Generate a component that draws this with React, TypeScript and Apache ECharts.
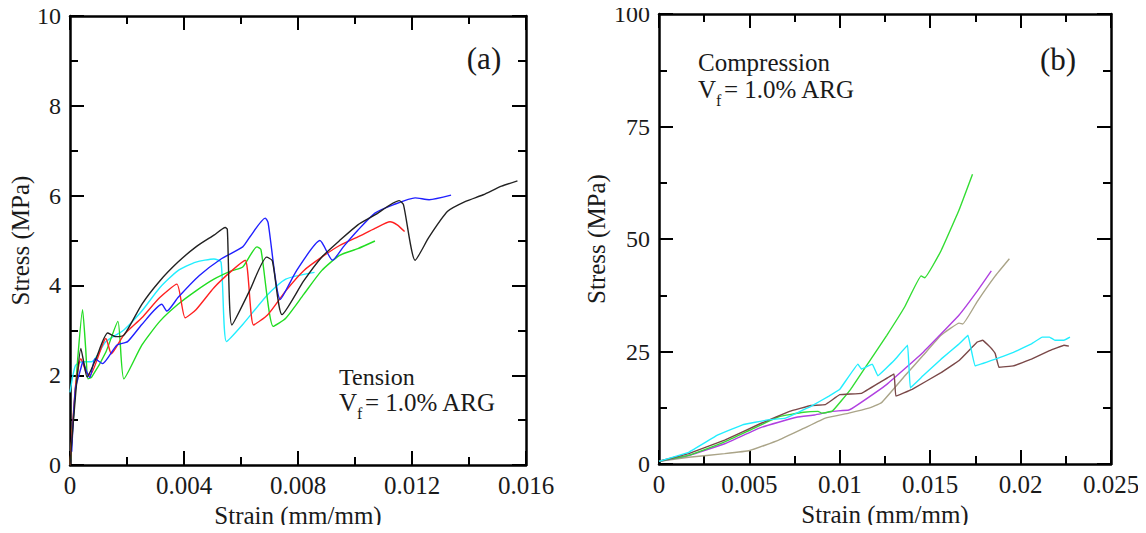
import React, { useEffect, useRef } from "react";
import * as echarts from "echarts";

type P = [number, number];

// ---- Tension (a): [strain, stress MPa]
const tensionBlack: P[] = [[0,0],[0.0002,1.6],[0.00038,2.6],[0.00048,2.3],[0.0006,1.96],[0.0009,2.35],[0.00132,2.94],[0.0016,2.86],[0.0019,2.9],[0.00252,3.58],[0.00315,4.1],[0.00379,4.52],[0.00442,4.86],[0.00505,5.12],[0.00545,5.29],[0.00552,5.25],[0.00568,3.12],[0.0063,3.88],[0.0069,4.63],[0.0071,4.55],[0.00744,3.35],[0.0082,4.1],[0.00883,4.63],[0.00946,5.0],[0.0101,5.35],[0.0107,5.57],[0.01155,5.89],[0.0117,5.8],[0.01211,4.56],[0.0126,5.08],[0.01325,5.65],[0.01388,5.87],[0.0145,6.02],[0.01514,6.21],[0.0157,6.33]];
const tensionBlue: P[] = [[0.00006,0.3],[0.00019,1.7],[0.00038,2.15],[0.00045,2.3],[0.0006,2.05],[0.0007,1.95],[0.00088,2.37],[0.00114,2.26],[0.00164,2.67],[0.00202,2.75],[0.00252,3.13],[0.00322,3.58],[0.0034,3.43],[0.00379,3.73],[0.00454,4.22],[0.0053,4.59],[0.00606,4.86],[0.00631,5.08],[0.00685,5.5],[0.00695,5.4],[0.00738,3.69],[0.00795,4.33],[0.00877,5.0],[0.00921,4.56],[0.00959,4.86],[0.0101,5.23],[0.0107,5.61],[0.01136,5.8],[0.01211,5.95],[0.0126,5.91],[0.01337,6.01]];
const tensionRed: P[] = [[0,0],[0.0002,1.8],[0.00038,2.37],[0.00057,2.07],[0.0007,2.0],[0.00126,2.82],[0.00145,2.48],[0.00189,2.9],[0.00252,3.28],[0.00315,3.73],[0.00375,4.03],[0.00404,3.28],[0.00442,3.46],[0.00505,3.95],[0.00568,4.33],[0.00615,4.56],[0.00644,3.12],[0.00694,3.35],[0.00757,3.88],[0.0082,4.33],[0.00883,4.63],[0.00946,4.89],[0.0101,5.08],[0.0107,5.27],[0.01123,5.42],[0.01148,5.35],[0.01174,5.2]];
const tensionGreen: P[] = [[0,0],[0.00025,2.2],[0.00044,3.46],[0.00055,2.6],[0.00063,1.92],[0.00076,1.96],[0.00126,2.52],[0.00168,3.2],[0.00189,1.92],[0.00252,2.67],[0.00315,3.2],[0.00379,3.58],[0.00442,3.88],[0.00505,4.14],[0.00568,4.33],[0.00606,4.41],[0.00656,4.86],[0.0067,4.8],[0.00713,3.09],[0.00757,3.27],[0.0082,3.8],[0.00883,4.33],[0.00946,4.67],[0.0101,4.82],[0.0107,4.99]];
const tensionCyan: P[] = [[0,1.62],[0.00019,2.22],[0.00044,2.3],[0.00076,2.3],[0.00126,2.75],[0.00189,3.01],[0.00252,3.43],[0.00315,3.95],[0.00379,4.33],[0.00442,4.52],[0.00505,4.59],[0.0053,4.52],[0.00549,2.75],[0.00606,3.13],[0.00694,3.8],[0.00757,4.14],[0.00858,4.29]];

// ---- Compression (b)
const compGreen: P[] = [[0,0.6],[0.00164,1.9],[0.00363,4.9],[0.00502,7.5],[0.00662,10.5],[0.008,11.5],[0.0088,11.7],[0.009,11.3],[0.0096,11.8],[0.0106,16.6],[0.0116,22.6],[0.0126,28.6],[0.0136,35],[0.0145,41.8],[0.0147,41.4],[0.0156,47.4],[0.0166,56.5],[0.01734,64.4]];
const compPurple: P[] = [[0,0.6],[0.00164,1.9],[0.00363,4.5],[0.00562,8.1],[0.00761,10.4],[0.0086,10.9],[0.0096,11.7],[0.0105,12],[0.011,13.2],[0.0126,17.7],[0.0146,24.8],[0.0166,33.1],[0.0176,38.4],[0.01838,42.9]];
const compTan: P[] = [[0,0.6],[0.00164,1.5],[0.00363,2.3],[0.00502,3],[0.00662,5.3],[0.008,7.9],[0.0092,10.2],[0.0105,11.3],[0.0116,12.4],[0.0123,13.6],[0.0136,19.6],[0.0146,24.1],[0.0156,28.6],[0.0166,31.3],[0.0168,31.1],[0.0176,36.1],[0.0186,41.8],[0.01938,45.6]];
const compBrown: P[] = [[0,0.6],[0.00164,2.3],[0.00363,5.3],[0.00562,9],[0.00722,11.7],[0.0084,13],[0.0092,13.2],[0.01,15.4],[0.0112,15.7],[0.0122,18.1],[0.013,20],[0.0131,15.1],[0.014,16.6],[0.0156,20.3],[0.0166,23],[0.0176,27.1],[0.0179,27.5],[0.0184,25.6],[0.0186,24.5],[0.0188,21.5],[0.0196,21.8],[0.0206,23.3],[0.0216,25.2],[0.0224,26.4],[0.02267,26.2]];
const compCyan: P[] = [[0,0.6],[0.00164,2.6],[0.00323,6.4],[0.00462,8.7],[0.00602,9.8],[0.007,10.2],[0.0084,12.8],[0.0094,15.1],[0.01,16.6],[0.011,22.2],[0.0112,21.1],[0.0118,22.2],[0.0121,19.6],[0.013,23],[0.01375,26.4],[0.0139,16.9],[0.0146,19.6],[0.0156,23.3],[0.0166,26.7],[0.01709,28.6],[0.01748,21.8],[0.0186,23.3],[0.0196,24.8],[0.0206,26.7],[0.0212,28.2],[0.0216,28.2],[0.0219,27.5],[0.0224,27.5],[0.02273,28.2]];

const FONT = "Liberation Serif";
const INK = "#1a1a1a";

const fmt = (v: number) => (v === 0 ? "0" : String(+v.toFixed(4)));

function xAxis(gridIndex: number, max: number, interval: number, pos: "bottom" | "top", name?: string) {
  const main = pos === "bottom";
  return {
    type: "value", gridIndex, position: pos, min: 0, max, interval,
    name: main ? name : undefined, nameLocation: "middle", nameGap: 34,
    nameTextStyle: { fontFamily: FONT, fontSize: 25, color: INK },
    axisLine: { show: true, onZero: false, lineStyle: { color: "#000", width: 2.5 } },
    axisTick: { show: true, inside: true, length: 14, lineStyle: { color: "#000", width: 2 } },
    minorTick: { show: true, splitNumber: 2, length: 8, lineStyle: { color: "#000", width: 2 } },
    splitLine: { show: false },
    axisLabel: { show: main, fontFamily: FONT, fontSize: 25, color: INK, margin: 8, formatter: fmt },
  };
}
function yAxis(gridIndex: number, max: number, interval: number, pos: "left" | "right", gap: number, name?: string) {
  const main = pos === "left";
  return {
    type: "value", gridIndex, position: pos, min: 0, max, interval,
    name: main ? name : undefined, nameLocation: "middle", nameGap: gap,
    nameTextStyle: { fontFamily: FONT, fontSize: 25, color: INK },
    axisLine: { show: true, onZero: false, lineStyle: { color: "#000", width: 2.5 } },
    axisTick: { show: true, inside: true, length: 14, lineStyle: { color: "#000", width: 2 } },
    minorTick: { show: true, splitNumber: 2, length: 8, lineStyle: { color: "#000", width: 2 } },
    splitLine: { show: false },
    axisLabel: { show: main, fontFamily: FONT, fontSize: 24, color: INK, margin: 9 },
  };
}

function line(data: P[], color: string, xi: number, yi: number, smooth: number) {
  return {
    type: "line", data, xAxisIndex: xi, yAxisIndex: yi, showSymbol: false, symbol: "none",
    smooth, lineStyle: { color, width: 1.4 }, itemStyle: { color }, silent: true,
  };
}

function txt(x: number, y: number, text: string, size: number) {
  return { type: "text", x, y, silent: true, style: { text, fontFamily: FONT, fontSize: size, fill: INK, align: "left", verticalAlign: "middle" } };
}
function vf(x: number, y: number) {
  return [txt(x, y, "V", 25), txt(x + 18, y + 11, "f", 16), txt(x + 26, y, "= 1.0% ARG", 25)];
}

export default function App() {
  const ref = useRef<HTMLDivElement>(null);
  useEffect(() => {
    const chart = echarts.init(ref.current!, undefined, { renderer: "svg" });
    chart.setOption({
      animation: false,
      backgroundColor: "#fff",
      textStyle: { fontFamily: FONT },
      grid: [
        { left: 70, top: 16, width: 456, height: 452 },
        { left: 659, top: 14, width: 452, height: 450 },
      ],
      xAxis: [
        xAxis(0, 0.016, 0.004, "bottom", "Strain (mm/mm)"),
        xAxis(0, 0.016, 0.004, "top"),
        xAxis(1, 0.025, 0.005, "bottom", "Strain (mm/mm)"),
        xAxis(1, 0.025, 0.005, "top"),
      ],
      yAxis: [
        yAxis(0, 10, 2, "left", 36, "Stress (MPa)"),
        yAxis(0, 10, 2, "right", 0),
        yAxis(1, 100, 25, "left", 50, "Stress (MPa)"),
        yAxis(1, 100, 25, "right", 0),
      ],
      series: [
        line(tensionCyan, "#22eeff", 0, 0, 0.2),
        line(tensionGreen, "#22dd22", 0, 0, 0.2),
        line(tensionRed, "#ff2020", 0, 0, 0.2),
        line(tensionBlue, "#2020ff", 0, 0, 0.2),
        line(tensionBlack, "#222222", 0, 0, 0.2),
        line(compTan, "#aaa488", 2, 2, 0.1),
        line(compPurple, "#b040e0", 2, 2, 0.1),
        line(compGreen, "#33dd33", 2, 2, 0.1),
        line(compBrown, "#7a4848", 2, 2, 0.05),
        line(compCyan, "#22eeff", 2, 2, 0.05),
      ],
      graphic: [
        { type: "text", x: 484, y: 58, silent: true, style: { text: "(a)", fontFamily: FONT, fontSize: 31, fill: INK, align: "center", verticalAlign: "middle" } },
        { type: "text", x: 1058, y: 59, silent: true, style: { text: "(b)", fontFamily: FONT, fontSize: 31, fill: INK, align: "center", verticalAlign: "middle" } },
        txt(339, 377, "Tension", 24),
        ...vf(339, 402),
        txt(698, 62, "Compression", 25),
        ...vf(698, 89),
      ],
    });
    return () => chart.dispose();
  }, []);
  return <div ref={ref} style={{ width: 1146, height: 533, margin: -8 }} />;
}
